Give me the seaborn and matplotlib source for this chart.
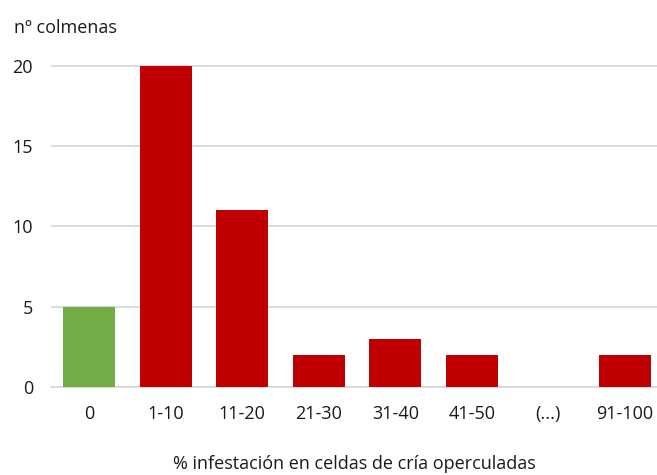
import matplotlib
matplotlib.use("Agg")
import matplotlib.pyplot as plt
import seaborn as sns
import pandas as pd

categorias = ["0", "1-10", "11-20", "21-30", "31-40", "41-50", "(...)", "91-100"]
colmenas = [5, 20, 11, 2, 3, 2, 0, 2]
colores = ["#70AD47", "#C00000", "#C00000", "#C00000", "#C00000", "#C00000", "#C00000", "#C00000"]
ticks_y = [0, 5, 10, 15, 20]

sns.set_theme(style="white")
plt.rcParams["font.family"] = ["Open Sans", "DejaVu Sans"]

df = pd.DataFrame({"rango": categorias, "n": colmenas})

fig = plt.figure(figsize=(6.57, 4.75), dpi=100)
ax = fig.add_axes([51 / 657, 88 / 475, 606 / 657, 322 / 475])

sns.barplot(data=df, x="rango", y="n", hue="rango", palette=colores,
            legend=False, width=0.68, saturation=1, linewidth=0, ax=ax, zorder=3)

ax.set_xlim(-0.5, 7.42)
ax.set_ylim(0, 20.05)
ax.set_yticks(ticks_y)
ax.yaxis.grid(True, color="#D9D9D9", linewidth=1.3, zorder=0)
ax.set_axisbelow(True)
for s in ["top", "right", "left"]:
    ax.spines[s].set_visible(False)
ax.spines["bottom"].set_color("#D9D9D9")
ax.spines["bottom"].set_linewidth(1.3)
ax.tick_params(axis="both", length=0, labelsize=13, colors="#1a1a1a")
ax.tick_params(axis="x", pad=13)
ax.tick_params(axis="y", pad=13)
ax.set_xlabel("% infestación en celdas de cría operculadas", fontsize=13, color="#1a1a1a", labelpad=23)
ax.set_ylabel("")
fig.text(14 / 657, 1 - 28 / 475, "nº colmenas", fontsize=13, color="#1a1a1a", va="center", ha="left")

fig.savefig("out.png", dpi=100)
